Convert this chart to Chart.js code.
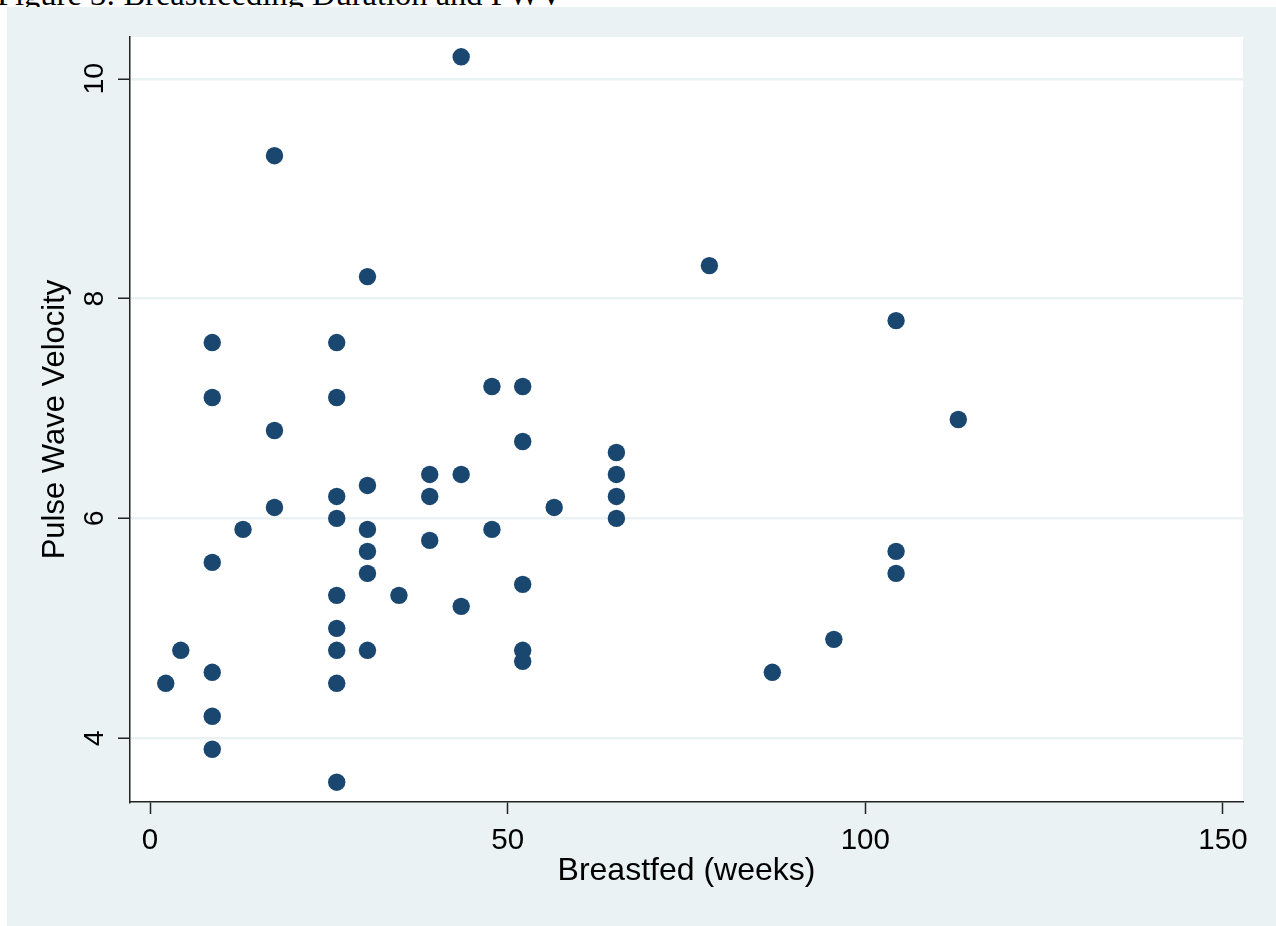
<!DOCTYPE html>
<html>
<head>
<meta charset="utf-8">
<script src="https://cdn.jsdelivr.net/npm/chart.js@4"></script>
<style>
  html, body { margin: 0; padding: 0; background: #ffffff; width: 1276px; height: 926px; overflow: hidden; }
  #title { position: absolute; left: -3px; top: -22px; font-family: "Liberation Serif", "Times New Roman", serif; font-size: 32.5px; line-height: 32px; color: #000; white-space: nowrap; }
  #wrap { position: absolute; left: 7px; top: 7px; width: 1269px; height: 919px; background: #EAF2F3; }
  canvas { display: block; }
</style>
</head>
<body>
<div id="title">Figure 3: Breastfeeding Duration and PWV</div>
<div id="wrap"><canvas id="c" width="1269" height="919"></canvas></div>
<script>
// ---- data ----
const weeks = [2.2, 4.3, 8.7, 8.7, 8.7, 8.7, 8.7, 8.7, 13, 17.4, 17.4, 17.4,
  26.1, 26.1, 26.1, 26.1, 26.1, 26.1, 26.1, 26.1, 26.1,
  30.4, 30.4, 30.4, 30.4, 30.4, 30.4, 34.8, 39.1, 39.1, 39.1,
  43.5, 43.5, 43.5, 47.8, 47.8, 52.1, 52.1, 52.1, 52.1, 52.1, 56.5,
  65.2, 65.2, 65.2, 65.2, 78.2, 87, 95.6, 104.3, 104.3, 104.3, 113];
const pwv = [4.5, 4.8, 7.6, 7.1, 5.6, 4.6, 4.2, 3.9, 5.9, 9.3, 6.8, 6.1,
  7.6, 7.1, 6.2, 6.0, 5.3, 5.0, 4.8, 4.5, 3.6,
  8.2, 6.3, 5.9, 5.7, 5.5, 4.8, 5.3, 6.4, 6.2, 5.8,
  10.2, 6.4, 5.2, 7.2, 5.9, 7.2, 6.7, 5.4, 4.8, 4.7, 6.1,
  6.6, 6.4, 6.2, 6.0, 8.3, 4.6, 4.9, 7.8, 5.7, 5.5, 6.9];
const xTicks = [0, 50, 100, 150];
const yTicks = [4, 6, 8, 10];
const xTitle = "Breastfed (weeks)";
const yTitle = "Pulse Wave Velocity";

const points = weeks.map((w, i) => ({ x: w, y: pwv[i] }));

Chart.defaults.font.family = '"Liberation Sans", Arial, sans-serif';
Chart.defaults.color = '#000';

const plotBg = {
  id: 'plotBg',
  beforeDraw(chart) {
    const { ctx, chartArea: a } = chart;
    ctx.save();
    ctx.fillStyle = '#ffffff';
    ctx.fillRect(a.left, a.top, a.right - a.left, a.bottom - a.top);
    ctx.restore();
  }
};

const yLabels = {
  id: 'yLabels',
  afterDraw(chart) {
    const { ctx } = chart;
    const s = chart.scales.y;
    ctx.save();
    ctx.fillStyle = '#000';
    ctx.font = '28.5px "Liberation Sans", Arial, sans-serif';
    ctx.textAlign = 'center';
    ctx.textBaseline = 'alphabetic';
    yTicks.forEach(v => {
      const py = s.getPixelForValue(v);
      ctx.save();
      ctx.translate(96, py);
      ctx.rotate(-Math.PI / 2);
      ctx.fillText(String(v), 0, 0);
      ctx.restore();
    });
    ctx.restore();
  }
};

new Chart(document.getElementById('c'), {
  type: 'scatter',
  data: {
    datasets: [{
      data: points,
      backgroundColor: '#1A476F',
      borderWidth: 0,
      pointRadius: 8.7,
      pointHoverRadius: 8.7
    }]
  },
  options: {
    responsive: false,
    animation: false,
    events: [],
    layout: { padding: { top: 30, right: 33, bottom: 0, left: 0 } },
    plugins: { legend: { display: false }, tooltip: { enabled: false } },
    scales: {
      x: {
        type: 'linear',
        min: -2.8,
        max: 152.8,
        afterBuildTicks(scale) { scale.ticks = xTicks.map(v => ({ value: v })); },
        afterFit(scale) { scale.height = 124; },
        ticks: { font: { size: 29.5 }, color: '#000', padding: 9, maxRotation: 0, autoSkip: false },
        grid: { color: 'rgba(0,0,0,0)', tickColor: '#222', tickWidth: 1.5, tickLength: 12, drawOnChartArea: false },
        border: { color: '#222', width: 1.5 },
        title: { display: true, text: xTitle, font: { size: 32 }, color: '#000', padding: { top: 0, bottom: 36 } }
      },
      y: {
        type: 'linear',
        min: 3.42,
        max: 10.38,
        afterBuildTicks(scale) { scale.ticks = yTicks.map(v => ({ value: v })); },
        afterFit(scale) { scale.width = 123; },
        ticks: { display: true, color: 'rgba(0,0,0,0)', font: { size: 28 } },
        grid: { color: '#EAF2F3', lineWidth: 2.5, tickColor: '#222', tickWidth: 1.5, tickLength: 12 },
        border: { color: '#222', width: 1.5 },
        title: { display: true, text: yTitle, font: { size: 31 }, color: '#000', padding: { top: 30, bottom: 0 } }
      }
    }
  },
  plugins: [plotBg, yLabels]
});
</script>
</body>
</html>
